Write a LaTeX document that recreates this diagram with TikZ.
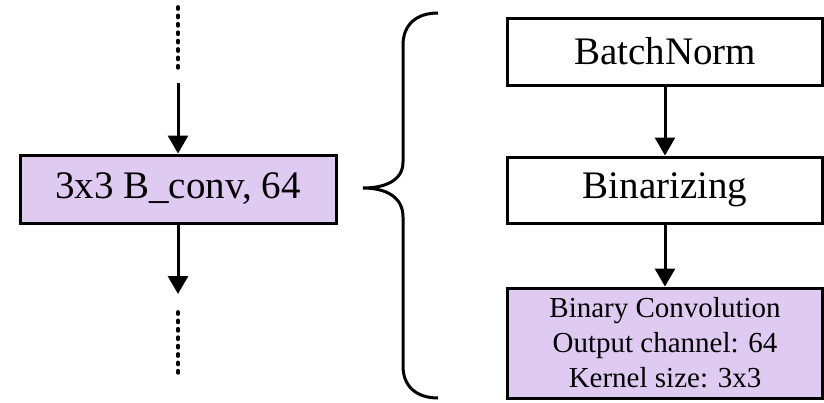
\documentclass[tikz,border=0pt]{standalone}
\usepackage{fontspec}
\setmainfont{Liberation Serif}
\usetikzlibrary{arrows.meta}
\definecolor{convfill}{HTML}{DFCAF2}

\begin{document}
\begin{tikzpicture}
[
    x = 0.5pt, y = -0.5pt,
    every node/.append style = {draw, line width = 1.5pt, inner sep = 0pt, align = center},
    layer/.style = {minimum width = 157.5pt, minimum height = 33.5pt, font = \fontsize{19.5}{23}\selectfont},
    convbox/.style = {layer, fill = convfill},
    arrow/.style = {line width = 1.5pt, -{Triangle[width = 10pt, length = 9pt]}},
    dotline/.style = {line width = 1.9pt, line cap = round, dash pattern = on 1pt off 3.2pt}]

\useasboundingbox (0,0) rectangle (824,402);

% left block
\node [convbox, minimum width = 158pt, minimum height = 34pt] (conv) at (178,189) {3x3 B\_conv, 64};
\coordinate (in1) at (178,7);
\coordinate (in2) at (178,74);
\coordinate (in3) at (178,83);
\coordinate (out1) at (178,294);
\coordinate (out2) at (178,312);
\coordinate (out3) at (178,378);
\draw [dotline] (in1) -- (in2);
\draw [arrow] (in3) -- (conv);
\draw [arrow] (conv) -- (out1);
\draw [dotline] (out2) -- (out3);

% brace
\draw [line width = 1.5pt]
    (438,13) .. controls (416,13) and (403,25) .. (403,45) -- (403,162)
    .. controls (403,180) and (386,188) .. (363,188)
    .. controls (386,188) and (403,197) .. (403,217) -- (403,366)
    .. controls (403,386) and (416,398) .. (438,398);

% right block
\node [layer] (bn) at (665,51.5) {BatchNorm};
\node [layer, minimum height = 33pt] (bin) at (665,190) {Binarizing};
\node [convbox, minimum height = 55pt, font = \fontsize{14.5}{17.5}\selectfont] (bconv) at (665,343)
    {Binary Convolution\\Output channel: 64\\Kernel size: 3x3};
\draw [arrow] (bn) -- (bin);
\draw [arrow] (bin) -- (bconv);

\end{tikzpicture}
\end{document}
